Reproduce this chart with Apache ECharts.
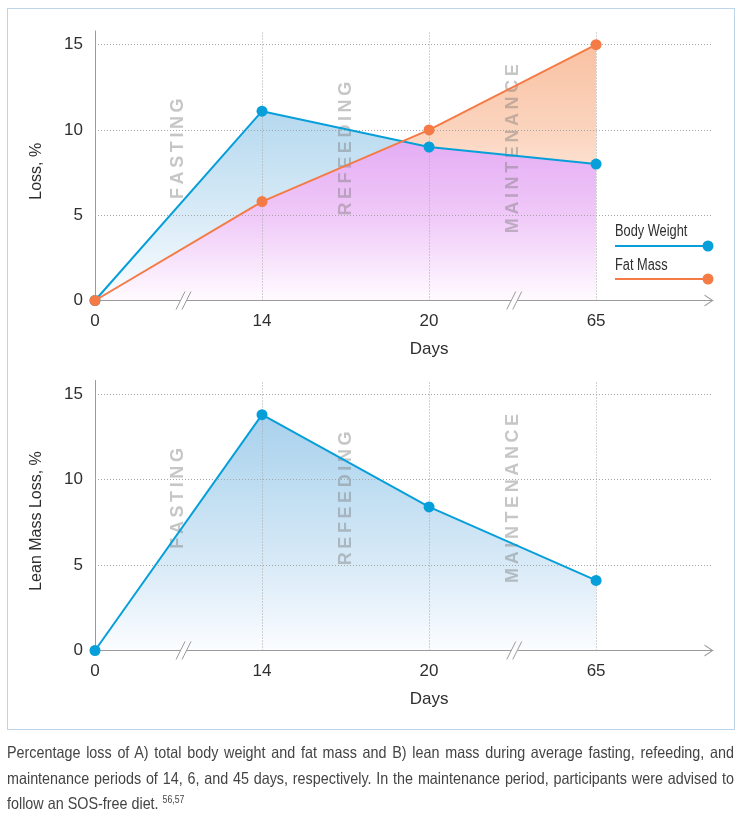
<!DOCTYPE html>
<html>
<head>
<meta charset="utf-8">
<script src="https://cdn.jsdelivr.net/npm/echarts@6/dist/echarts.min.js"></script>
<style>
html, body { margin: 0; padding: 0; background: #fff; }
#wrap { position: relative; width: 743px; height: 815px; overflow: hidden; }
#chart { position: absolute; left: 0; top: 0; width: 743px; height: 735px; }
#frame { position: absolute; left: 7px; top: 8px; width: 728px; height: 722px; border: 1px solid #bcd5eb; box-sizing: border-box; pointer-events: none; }
#caption { position: absolute; left: 7px; top: 740px; width: 835.6px; transform: scaleX(0.87); transform-origin: 0 0;
  font-family: 'Liberation Sans', Arial, sans-serif; font-size: 16.5px; line-height: 25.5px; color: #444; }
#caption .l { text-align: justify; text-align-last: justify; white-space: nowrap; }
#caption sup { font-size: 10px; vertical-align: 6px; line-height: 0; }
</style>
</head>
<body>
<div id="wrap">
  <div id="chart"></div>
  <div id="frame"></div>
  <div id="caption">
    <div class="l">Percentage loss of A) total body weight and fat mass and B) lean mass during average fasting, refeeding, and</div>
    <div class="l">maintenance periods of 14, 6, and 45 days, respectively. In the maintenance period, participants were advised to</div>
    <div>follow an SOS-free diet. <sup>56,57</sup></div>
  </div>
</div>
<script>
// ---------------- data ----------------
const dayLabels = ['0', '14', '20', '65'];
const bodyWeight = [0, 11.1, 9.0, 8.0];
const fatMass = [0, 5.8, 10.0, 15.0];
const leanMass = [0, 13.8, 8.4, 4.1];
const gridValues = [5, 10, 15];
const phaseNames = ['FASTING', 'REFEEDING', 'MAINTENANCE'];
const seriesNames = ['Body Weight', 'Fat Mass'];
const topYName = 'Loss, %';
const bottomYName = 'Lean Mass Loss, %';
const xName = 'Days';

// ---------------- style ----------------
const BLUE = '#079fd9';
const ORANGE = '#f47b45';
const AXIS = '#9b9b9b';
const GRIDC = '#a6a6a6';
const TXT = '#2f2f2f';
const FONT = "'Liberation Sans', Arial, sans-serif";
const X_MAX = 3.7, Y_MAX = 15.8;
const breakAt = [0.53, 2.51];
const phaseY = 8.9;

const pts = vals => vals.map((v, i) => [i, v]);
const spaced = s => s.split('').join('\u2009');

function xAxisCfg(gi) {
  return {
    type: 'value', gridIndex: gi, min: 0, max: X_MAX, interval: 1, z: 3,
    axisLine: { show: true, onZero: false, lineStyle: { color: AXIS, width: 1 },
      symbol: ['none', 'path://M0,9 L6,0 L12,9 L10.7,9 L6,1.9 L1.3,9 Z'], symbolSize: [12, 9], symbolOffset: [0, -4] },
    axisTick: { show: false },
    splitLine: { show: false },
    axisLabel: { show: true, margin: 12, color: TXT, fontFamily: FONT, fontSize: 17,
      formatter: v => (Number.isInteger(v) && dayLabels[v] !== undefined) ? dayLabels[v] : '' }
  };
}
function yAxisCfg(gi, name) {
  return {
    type: 'value', gridIndex: gi, min: 0, max: Y_MAX, interval: 5, z: 3,
    name: name, nameLocation: 'middle', nameGap: 50,
    nameTextStyle: { color: TXT, fontFamily: FONT, fontSize: 16, padding: [0, 11, 0, 0] },
    axisLine: { show: true, onZero: false, lineStyle: { color: AXIS, width: 1 } },
    axisTick: { show: false },
    splitLine: { show: false },
    axisLabel: { show: true, margin: 12, color: TXT, fontFamily: FONT, fontSize: 17,
      formatter: v => (v % 5 === 0) ? String(v) : '' }
  };
}
function gridLineSeries(gi) {
  return {
    type: 'line', xAxisIndex: gi, yAxisIndex: gi, data: [], z: 3, silent: true,
    markLine: {
      silent: true, symbol: ['none', 'none'], label: { show: false }, animation: false,
      lineStyle: { color: GRIDC, type: [1, 2], width: 1 },
      emphasis: { disabled: true },
      data: gridValues.map(v => ({ yAxis: v })).concat(dayLabels.slice(1).map((d, i) => ({ xAxis: i + 1 })))
    }
  };
}
function decorSeries(gi) {
  return {
    type: 'custom', xAxisIndex: gi, yAxisIndex: gi, z: 4, silent: true, data: [[0, 0]],
    renderItem: function (params, api) {
      const children = [];
      breakAt.forEach(bx => {
        const p = api.coord([bx, 0]);
        const cx = p[0], cy = p[1];
        children.push({ type: 'polygon', shape: { points: [[cx - 2, cy - 2], [cx + 4, cy - 2], [cx + 2, cy + 2], [cx - 4, cy + 2]] }, style: { fill: '#fff' } });
        [-3, 3].forEach(o => children.push({ type: 'line', shape: { x1: cx + o - 4.5, y1: cy + 9, x2: cx + o + 4.5, y2: cy - 9 }, style: { stroke: AXIS, lineWidth: 1 } }));
      });
      phaseNames.forEach((nm, i) => {
        const p = api.coord([i + 0.5, phaseY]);
        children.push({ type: 'text', x: p[0], y: p[1], rotation: Math.PI / 2,
          style: { text: spaced(nm), fill: 'rgba(120,120,120,0.42)', font: "bold 18px 'Liberation Sans', Arial, sans-serif", align: 'center', verticalAlign: 'middle' } });
      });
      const d = api.coord([2, 0]);
      children.push({ type: 'text', x: d[0], y: d[1] + 48.5,
        style: { text: xName, fill: TXT, font: '17px ' + FONT, align: 'center', verticalAlign: 'middle' } });
      return { type: 'group', children: children };
    }
  };
}
function lineSeries(gi, name, vals, color, z) {
  return {
    type: 'line', name: name, xAxisIndex: gi, yAxisIndex: gi, data: pts(vals), z: z,
    symbol: 'circle', symbolSize: 11, showSymbol: true, silent: true,
    lineStyle: { color: color, width: 2 },
    itemStyle: { color: color, borderWidth: 0 },
    emphasis: { disabled: true }, animation: false
  };
}
function grad(api, stops) {
  const y0 = api.coord([0, 0])[1], y15 = api.coord([0, 15])[1];
  return new echarts.graphic.LinearGradient(0, y15, 0, y0, stops, true);
}
function areaPts(api, vals) {
  const out = [api.coord([0, 0])];
  vals.forEach((v, i) => out.push(api.coord([i, v])));
  out.push(api.coord([vals.length - 1, 0]));
  return out;
}

const option = {
  backgroundColor: 'transparent',
  animation: false,
  textStyle: { fontFamily: FONT },
  grid: [
    { left: 95, right: 30, top: 31, height: 269.5, containLabel: false, outerBoundsMode: 'none' },
    { left: 95, right: 30, top: 380.5, height: 270, containLabel: false, outerBoundsMode: 'none' }
  ],
  xAxis: [xAxisCfg(0), xAxisCfg(1)],
  yAxis: [yAxisCfg(0, topYName), yAxisCfg(1, bottomYName)],
  graphic: [
    { type: 'text', x: 615, y: 232, scaleX: 0.8, style: { text: seriesNames[0], fill: TXT, font: '16px ' + FONT, verticalAlign: 'middle' } },
    { type: 'line', shape: { x1: 615, y1: 246, x2: 708, y2: 246 }, style: { stroke: BLUE, lineWidth: 2 } },
    { type: 'circle', shape: { cx: 708, cy: 246, r: 5.5 }, style: { fill: BLUE } },
    { type: 'text', x: 615, y: 265.5, scaleX: 0.8, style: { text: seriesNames[1], fill: TXT, font: '16px ' + FONT, verticalAlign: 'middle' } },
    { type: 'line', shape: { x1: 615, y1: 279, x2: 708, y2: 279 }, style: { stroke: ORANGE, lineWidth: 2 } },
    { type: 'circle', shape: { cx: 708, cy: 279, r: 5.5 }, style: { fill: ORANGE } }
  ],
  series: [
    {
      type: 'custom', xAxisIndex: 0, yAxisIndex: 0, z: 1, silent: true, data: [[0, 0]],
      renderItem: function (params, api) {
        const bw = areaPts(api, bodyWeight), fm = areaPts(api, fatMass);
        return { type: 'group', children: [
          { type: 'polygon', name: 'fillBlue', z2: 1, shape: { points: bw }, style: { fill: grad(api, [
            { offset: 0, color: '#a8d1ed' }, { offset: 0.27, color: '#b6d9ef' }, { offset: 0.67, color: '#d9ebf7' }, { offset: 1, color: '#fbfdff' }]) } },
          { type: 'polygon', name: 'fillPurple', info: 'source-atop', z2: 2, shape: { points: fm }, style: { blend: 'source-atop', fill: grad(api, [
            { offset: 0, color: '#d894ef' }, { offset: 0.33, color: '#e2a8f3' }, { offset: 0.67, color: '#f0c9f8' }, { offset: 1, color: '#fffbff' }]) } },
          { type: 'polygon', name: 'fillOrange', info: 'destination-over', z2: 3, shape: { points: fm }, style: { blend: 'destination-over', fill: grad(api, [
            { offset: 0, color: '#f9c1a2' }, { offset: 0.33, color: '#fbd4be' }, { offset: 0.5, color: '#fde2d3' }, { offset: 1, color: '#fff6f1' }]) } }
        ] };
      }
    },
    {
      type: 'custom', xAxisIndex: 1, yAxisIndex: 1, z: 1, silent: true, data: [[0, 0]],
      renderItem: function (params, api) {
        return { type: 'polygon', shape: { points: areaPts(api, leanMass) }, style: { fill: grad(api, [
          { offset: 0, color: '#a3cdeb' }, { offset: 0.33, color: '#bcdcf1' }, { offset: 0.67, color: '#d9eaf7' }, { offset: 1, color: '#fbfdff' }]) } };
      }
    },
    gridLineSeries(0),
    gridLineSeries(1),
    decorSeries(0),
    decorSeries(1),
    lineSeries(0, seriesNames[0], bodyWeight, BLUE, 5),
    lineSeries(0, seriesNames[1], fatMass, ORANGE, 6),
    lineSeries(1, 'Lean Mass', leanMass, BLUE, 5)
  ]
};

const chart = echarts.init(document.getElementById('chart'), null, { renderer: 'canvas' });
chart.setOption(option);

// Overlap shading: purple where both areas overlap, orange only where fat mass rises above body weight.
function applyBlend() {
  const zr = chart.getZr();
  let changed = false;
  zr.storage.getDisplayList(true).forEach(el => {
    let b = null;
    if (el.name === 'fillPurple' || el.info === 'source-atop') b = 'source-atop';
    if (el.name === 'fillOrange' || el.info === 'destination-over') b = 'destination-over';
    if (b && el.style && el.style.blend !== b) { el.style.blend = b; el.markRedraw(); changed = true; }
  });
  if (changed) zr.refreshImmediately();
}
applyBlend();
chart.on('finished', applyBlend);
</script>
</body>
</html>
